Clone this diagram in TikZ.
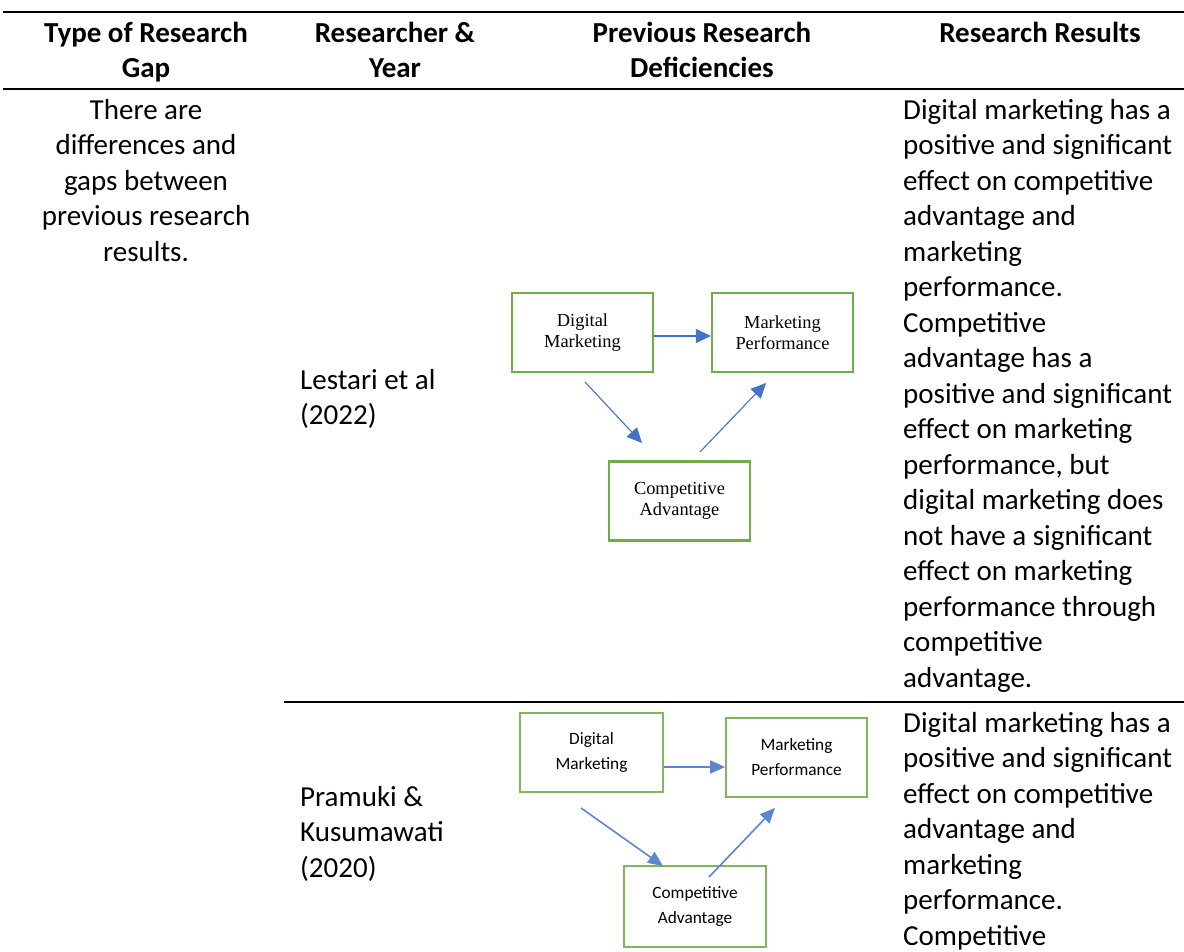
\documentclass[tikz,border=0pt]{standalone}
\usepackage{fontspec}
\setmainfont{Carlito}
\newfontfamily\diagserif{Liberation Serif}
\usetikzlibrary{arrows.meta}
\definecolor{boxgreen}{HTML}{70AD47}
\definecolor{boxgreenb}{HTML}{7DB85A}
\definecolor{arrblue}{HTML}{4472C4}
\definecolor{arrblueb}{HTML}{5B86D0}
\begin{document}
\begin{tikzpicture}[x=1pt,y=-1pt,
  headcell/.style={anchor=north, inner sep=0pt, align=center,
    font=\bfseries\fontsize{29}{35.5}\selectfont, yshift=24.85pt},
  cellC/.style={anchor=north, inner sep=0pt, align=center,
    font=\fontsize{29}{35.5}\selectfont, yshift=24.85pt},
  cellL/.style={anchor=north west, inner sep=0pt, align=left,
    font=\fontsize{29}{35.5}\selectfont, yshift=24.85pt},
  boxa/.style={draw=boxgreen, line width=2.2pt, minimum width=141pt,
    minimum height=79pt, inner sep=0pt, align=center,
    font=\diagserif\fontsize{18.4}{21}\selectfont},
  boxb/.style={draw=boxgreenb, line width=1.6pt, minimum height=79pt,
    inner sep=0pt, align=center, font=\fontsize{17.3}{25}\selectfont},
  arra/.style={draw=arrblue, line width=1.1pt,
    -{Triangle[length=15pt,width=14pt]}},
  arrb/.style={draw=arrblueb, line width=1.6pt,
    -{Triangle[length=15pt,width=13pt]}},
  rule/.style={draw=black}
]
\useasboundingbox[fill=white] (0,0) rectangle (1184,952);

% table rules
\draw[rule, line width=2pt] (3,12) -- (1184,12);
\draw[rule, line width=2pt] (3,89) -- (1184,89);
\draw[rule, line width=1.5pt] (284,702) -- (1184,702);

% header
\node[headcell] (h1) at (146,42) {\strut Type of Research\\Gap};
\node[headcell] (h2) at (395,42) {\strut Researcher \&\\Year};
\node[headcell] (h3) at (702,42) {\strut Previous Research\\Deficiencies};
\node[headcell] (h4) at (1040,42) {\strut Research Results};

% row 1
\node[cellC] (gap) at (146,119) {\strut There are\\differences and\\gaps between\\previous research\\results.};
\node[cellL] (r1) at (300,389) {\strut Lestari et al\\(2022)};
\node[cellL] (res1) at (903,119) {\strut Digital marketing has a\\positive and significant\\effect on competitive\\advantage and\\marketing\\performance.\\Competitive\\advantage has a\\positive and significant\\effect on marketing\\performance, but\\digital marketing does\\not have a significant\\effect on marketing\\performance through\\competitive\\advantage.};

% row 2
\node[cellL] (r2) at (300,806) {\strut Pramuki \&\\Kusumawati\\(2020)};
\node[cellL] (res2) at (903,732) {\strut Digital marketing has a\\positive and significant\\effect on competitive\\advantage and\\marketing\\performance.\\Competitive};

% diagram 1
\node[boxa] (dma) at (582.5,332.5) {Digital\\Marketing};
\node[boxa] (mpa) at (782.5,332.5) {Marketing\\Performance};
\node[boxa] (caa) at (679.5,501) {Competitive\\Advantage};
\coordinate (a1) at (585,382);
\coordinate (a2) at (642,443);
\coordinate (a3) at (700,452);
\coordinate (a4) at (766,383);
\draw[arra] ([yshift=-3.5pt]dma.east) -- ([yshift=-3.5pt]mpa.west);
\draw[arra] (a1) -- (a2);
\draw[arra] (a3) -- (a4);

% diagram 2
\node[boxb, minimum width=143pt] (dmb) at (591.5,752.5) {Digital\\Marketing};
\node[boxb, minimum width=141pt] (mpb) at (796.5,757.5) {Marketing\\Performance};
\node[boxb, minimum width=142pt, minimum height=81pt] (cab) at (695,906.5) {Competitive\\Advantage};
\coordinate (b1) at (581,808);
\coordinate (b2) at (663,866);
\coordinate (b3) at (709,877);
\coordinate (b4) at (775,808);
\draw[arrb] ([yshift=-14.5pt]dmb.east) -- ([yshift=-9.5pt]mpb.west);
\draw[arrb] (b1) -- (b2);
\draw[arrb] (b3) -- (b4);
\end{tikzpicture}
\end{document}
